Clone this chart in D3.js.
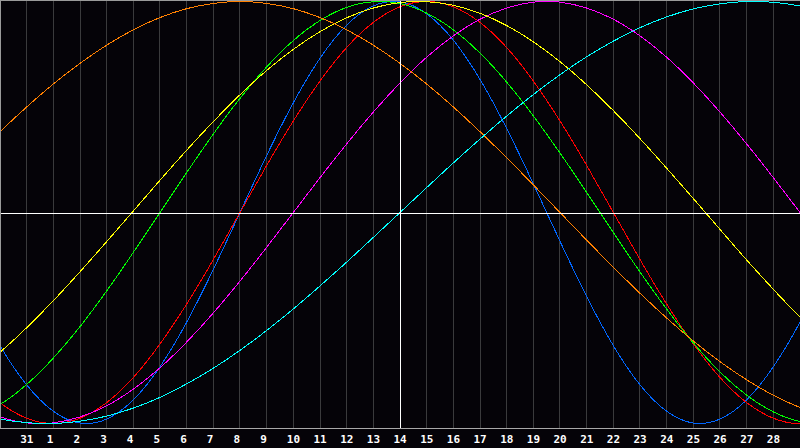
<!DOCTYPE html>
<html>
<head>
<meta charset="utf-8">
<script src="https://cdn.jsdelivr.net/npm/d3@7"></script>
<style>
html,body{margin:0;padding:0;background:#050308;overflow:hidden;}
svg{display:block;}
</style>
</head>
<body>
<script>
// Day positions k = -1 .. 31 (k = 0 is the left edge, k = 30 the right edge)
const dates = ["29","30","31","1","2","3","4","5","6","7","8","9","10","11","12","13","14","15","16","17","18","19","20","21","22","23","24","25","26","27","28","29","30"];
const tickLabels = ["31","1","2","3","4","5","6","7","8","9","10","11","12","13","14","15","16","17","18","19","20","21","22","23","24","25","26","27","28"];

// Curve values (-1 .. 1) read at each day, k = -1 .. 31
const physical     = [-0.398,-0.631,-0.817,-0.942,-0.998,-0.979,-0.888,-0.731,-0.520,-0.270,0.000,0.270,0.520,0.731,0.888,0.979,0.998,0.942,0.817,0.631,0.398,0.136,-0.136,-0.398,-0.631,-0.817,-0.942,-0.998,-0.979,-0.888,-0.731,-0.520,-0.270];
const emotional    = [-0.782,-0.901,-0.975,-1.000,-0.975,-0.901,-0.782,-0.623,-0.434,-0.223,0.000,0.223,0.434,0.623,0.782,0.901,0.975,1.000,0.975,0.901,0.782,0.623,0.434,0.223,0.000,-0.223,-0.434,-0.623,-0.782,-0.901,-0.975,-1.000,-0.975];
const intellectual = [-0.972,-0.910,-0.815,-0.690,-0.541,-0.372,-0.189,0.000,0.189,0.372,0.541,0.690,0.815,0.910,0.972,0.999,0.990,0.945,0.866,0.756,0.618,0.458,0.282,0.095,-0.095,-0.282,-0.458,-0.618,-0.756,-0.866,-0.945,-0.990,-0.999];
const intuitive    = [-0.916,-0.969,-0.997,-0.997,-0.969,-0.916,-0.837,-0.736,-0.614,-0.476,-0.325,-0.165,0.000,0.165,0.325,0.476,0.614,0.736,0.837,0.916,0.969,0.997,0.997,0.969,0.916,0.837,0.736,0.614,0.476,0.325,0.165,0.000,-0.165];
const aesthetic    = [-0.764,-0.662,-0.546,-0.418,-0.281,-0.138,0.007,0.153,0.295,0.431,0.558,0.673,0.773,0.857,0.923,0.969,0.995,0.999,0.982,0.944,0.886,0.809,0.715,0.605,0.483,0.350,0.210,0.066,-0.080,-0.225,-0.364,-0.496,-0.617];
const awareness    = [0.259,0.383,0.500,0.609,0.707,0.793,0.866,0.924,0.966,0.991,1.000,0.991,0.966,0.924,0.866,0.793,0.707,0.609,0.500,0.383,0.259,0.131,0.000,-0.131,-0.259,-0.383,-0.500,-0.609,-0.707,-0.793,-0.866,-0.924,-0.966];
const spiritual    = [-0.947,-0.979,-0.996,-1.000,-0.989,-0.965,-0.927,-0.876,-0.812,-0.738,-0.653,-0.559,-0.457,-0.348,-0.235,-0.118,0.000,0.118,0.235,0.348,0.457,0.559,0.653,0.738,0.812,0.876,0.927,0.965,0.989,1.000,0.996,0.979,0.947];

const seriesNames  = ["physical","emotional","intellectual","intuitive","aesthetic","awareness","spiritual"];
const seriesValues = [physical, emotional, intellectual, intuitive, aesthetic, awareness, spiritual];
const seriesColors = ["#0066ff","#ff0000","#00ff00","#ff00ff","#ffff00","#ff8000","#00ffff"];

const W = 800, H = 448, plotBottom = 428;

const svg = d3.select("body").append("svg")
  .attr("width", W).attr("height", H)
  .style("background", "#050308");

const x = d3.scaleLinear().domain([-1, 31]).range([-800/30, 800 + 800/30]);
const y = d3.scaleLinear().domain([-1, 1]).range([423.5, 1.5]);
const px = v => Math.floor(v) + 0.5;

svg.append("defs").append("clipPath").attr("id", "plot")
  .append("rect").attr("x", 0).attr("y", 0).attr("width", W).attr("height", plotBottom);

// vertical day grid lines
const gridKs = d3.range(1, 30);
svg.append("g").selectAll("line").data(gridKs).join("line")
  .attr("x1", d => px(x(d))).attr("x2", d => px(x(d)))
  .attr("y1", 0).attr("y2", plotBottom)
  .attr("stroke", "#3a3a3c").attr("stroke-width", 1)
  .attr("shape-rendering", "crispEdges");

// curves
const line = d3.line()
  .x((d, i) => x(i - 1))
  .y(d => y(d))
  .curve(d3.curveNatural);

svg.append("g").attr("clip-path", "url(#plot)")
  .selectAll("path").data(seriesValues).join("path")
  .attr("d", d => line(d))
  .attr("fill", "none")
  .attr("stroke", (d, i) => seriesColors[i])
  .attr("stroke-width", 1)
  .attr("shape-rendering", "crispEdges");

// centre cross (today / zero line)
svg.append("line")
  .attr("x1", 0).attr("x2", W).attr("y1", 213.5).attr("y2", 213.5)
  .attr("stroke", "#ffffff").attr("shape-rendering", "crispEdges");
svg.append("line")
  .attr("x1", px(x(15))).attr("x2", px(x(15))).attr("y1", 0).attr("y2", plotBottom)
  .attr("stroke", "#ffffff").attr("shape-rendering", "crispEdges");

// frame
svg.append("line").attr("x1", 0).attr("x2", W).attr("y1", 0.5).attr("y2", 0.5)
  .attr("stroke", "#9a9a9a").attr("shape-rendering", "crispEdges");
svg.append("line").attr("x1", 0.5).attr("x2", 0.5).attr("y1", 0).attr("y2", plotBottom + 1)
  .attr("stroke", "#9a9a9a").attr("shape-rendering", "crispEdges");
svg.append("line").attr("x1", 0).attr("x2", W).attr("y1", plotBottom + 0.5).attr("y2", plotBottom + 0.5)
  .attr("stroke", "#a8a8a8").attr("shape-rendering", "crispEdges");

// day labels
svg.append("g").selectAll("text").data(tickLabels).join("text")
  .attr("x", (d, i) => x(i + 1) - 6.5)
  .attr("y", 443)
  .attr("fill", "#ffffff")
  .attr("font-family", "'DejaVu Sans Mono', monospace")
  .attr("font-weight", "bold")
  .attr("font-size", "11px")
  .text(d => d);
</script>
</body>
</html>
